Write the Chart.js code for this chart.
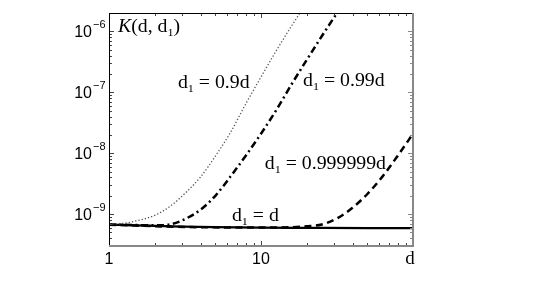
<!DOCTYPE html>
<html>
<head>
<meta charset="utf-8">
<script src="https://cdn.jsdelivr.net/npm/chart.js@4.4.1/dist/chart.umd.min.js"></script>
<style>
  html, body { margin: 0; padding: 0; background: #fff; }
  canvas { display: block; }
</style>
</head>
<body>
<canvas id="c" width="545" height="282"></canvas>
<script>
// values (d on x, K(d,d1) on y)
const xSame = [1, 1.5, 2, 3, 5, 10, 20, 50, 100];
const kSame = [6.7e-10, 6.55e-10, 6.4e-10, 6.25e-10, 6.1e-10, 6.0e-10, 5.95e-10, 5.9e-10, 5.9e-10];

const xNine = [1, 1.26, 1.58, 2, 2.5, 3.16, 4, 5, 6.3, 7.9, 10, 12.6, 15.8, 20];
const kNine = [6.84e-10, 7.08e-10, 7.94e-10, 9.55e-10, 1.32e-9, 2.19e-9, 4.07e-9, 8.9e-9, 2.19e-8, 6.3e-8, 1.78e-7, 4.8e-7, 1.2e-6, 2.95e-6];

const xTwoNines = [1, 1.58, 2, 2.51, 3.16, 3.98, 5.01, 6.31, 7.94, 10, 12.6, 15.8, 20, 25.1, 31.6, 39.8];
const kTwoNines = [6.76e-10, 6.6e-10, 6.55e-10, 6.76e-10, 8.3e-10, 1.17e-9, 2.0e-9, 4.17e-9, 9.1e-9, 2.09e-8, 5.1e-8, 1.32e-7, 3.4e-7, 8.3e-7, 2.0e-6, 4.8e-6];

const xSixNines = [1, 3.16, 10, 15.8, 20, 25.1, 31.6, 39.8, 50.1, 63.1, 79.4, 100];
const kSixNines = [6.7e-10, 6.15e-10, 6.03e-10, 6.1e-10, 6.3e-10, 6.76e-10, 8.5e-10, 1.26e-9, 2.14e-9, 4.17e-9, 9.1e-9, 2.09e-8];

const yTicks = [1e-9, 1e-8, 1e-7, 1e-6];
const yTickExp = ['\u22129', '\u22128', '\u22127', '\u22126'];
const xTicks = [1, 10, 100];
const xTickLabels = ['1', '10', 'd'];

// curve labels: [x, y, right-hand text]
const curveLabels = [
  [2.84, 1.16e-7, ' = 0.9d'],
  [18.9, 1.26e-7, ' = 0.99d'],
  [10.6, 5.5e-9, ' = 0.999999d'],
  [6.44, 7.7e-10, ' = d']
];
const titlePos = [1.146, 9.6e-7];

const SERIF = '18px "Liberation Serif"';
const SERIF_SUB = '11px "Liberation Serif"';
const SANS = '16px "Liberation Sans"';

function pts(xs, ys) {
  return xs.map((x, i) => ({ x: x, y: ys[i] }));
}

function rich(ctx, x, y, parts) {
  ctx.save();
  ctx.translate(x, y);
  ctx.scale(1.1, 1);
  let cx = 0;
  parts.forEach(p => {
    ctx.font = p.f;
    ctx.fillText(p.t, cx, p.dy || 0);
    cx += ctx.measureText(p.t).width;
  });
  ctx.restore();
}

const framePlugin = {
  id: 'frame',
  afterDraw(chart) {
    const ctx = chart.ctx;
    const a = chart.chartArea;
    const xs = chart.scales.x, ys = chart.scales.y;
    ctx.save();
    ctx.textBaseline = 'alphabetic';
    ctx.fillStyle = '#000';

    // minor / major ticks, pointing inward on all four sides
    ctx.lineWidth = 1;
    for (let e = -10; e <= -6; e++) {
      for (let k = 1; k <= 9; k++) {
        const v = k * Math.pow(10, e);
        if (v < ys.min || v > ys.max) continue;
        const py = Math.round(ys.getPixelForValue(v)) + 0.5;
        const len = k === 1 ? 5 : 3;
        ctx.strokeStyle = '#444';
        ctx.beginPath(); ctx.moveTo(a.left, py); ctx.lineTo(a.left + len, py); ctx.stroke();
        ctx.strokeStyle = '#888';
        ctx.beginPath(); ctx.moveTo(a.right, py); ctx.lineTo(a.right - len, py); ctx.stroke();
      }
    }
    for (let e = 0; e <= 2; e++) {
      for (let k = 1; k <= 9; k++) {
        const v = k * Math.pow(10, e);
        if (v < xs.min || v > xs.max) continue;
        const px = Math.round(xs.getPixelForValue(v)) + 0.5;
        const len = k === 1 ? 5 : 3;
        ctx.strokeStyle = '#444';
        ctx.beginPath(); ctx.moveTo(px, a.top); ctx.lineTo(px, a.top + len); ctx.stroke();
        ctx.beginPath(); ctx.moveTo(px, a.bottom); ctx.lineTo(px, a.bottom - len); ctx.stroke();
      }
    }

    // frame: left/top black, bottom/right grey
    ctx.strokeStyle = '#000';
    ctx.lineWidth = 1;
    ctx.beginPath();
    ctx.moveTo(a.left + 0.5, a.bottom);
    ctx.lineTo(a.left + 0.5, a.top + 0.5);
    ctx.lineTo(a.right, a.top + 0.5);
    ctx.stroke();
    ctx.strokeStyle = '#888';
    ctx.lineWidth = 2;
    ctx.beginPath();
    ctx.moveTo(a.left, a.bottom);
    ctx.lineTo(a.right, a.bottom);
    ctx.lineTo(a.right, a.top);
    ctx.stroke();

    // y tick labels 10^n
    yTicks.forEach((v, i) => {
      const py = ys.getPixelForValue(v);
      ctx.font = SANS;
      ctx.textAlign = 'right';
      ctx.fillText('10', 92, py + 6);
      ctx.font = '11px "Liberation Sans"';
      ctx.textAlign = 'left';
      ctx.fillText(yTickExp[i], 93, py - 3);
    });

    // x tick labels
    ctx.textAlign = 'center';
    xTicks.forEach((v, i) => {
      const px = xs.getPixelForValue(v);
      ctx.font = xTickLabels[i] === 'd' ? '19px "Liberation Serif"' : SANS;
      ctx.fillText(xTickLabels[i], px - (i === 2 ? 3 : 0), 264);
    });

    // title and curve labels
    ctx.textAlign = 'left';
    rich(ctx, xs.getPixelForValue(titlePos[0]), ys.getPixelForValue(titlePos[1]), [
      { t: 'K', f: 'italic ' + SERIF },
      { t: '(d, d', f: SERIF },
      { t: '1', f: SERIF_SUB, dy: 4 },
      { t: ')', f: SERIF }
    ]);
    curveLabels.forEach(l => {
      rich(ctx, xs.getPixelForValue(l[0]), ys.getPixelForValue(l[1]), [
        { t: 'd', f: SERIF },
        { t: '1', f: SERIF_SUB, dy: 4 },
        { t: l[2], f: SERIF }
      ]);
    });
    ctx.restore();
  }
};

new Chart(document.getElementById('c'), {
  type: 'line',
  data: {
    datasets: [
      {
        label: 'd1 = 0.9d',
        data: pts(xNine, kNine),
        borderColor: '#555',
        borderWidth: 1.3,
        borderDash: [1.3, 2],
        pointRadius: 0,
        cubicInterpolationMode: 'monotone'
      },
      {
        label: 'd1 = 0.99d',
        data: pts(xTwoNines, kTwoNines),
        borderColor: '#000',
        borderWidth: 2.5,
        borderDash: [7, 3.5, 2, 3.5],
        pointRadius: 0,
        cubicInterpolationMode: 'monotone'
      },
      {
        label: 'd1 = 0.999999d',
        data: pts(xSixNines, kSixNines),
        borderColor: '#000',
        borderWidth: 2.5,
        borderDash: [7, 4.5],
        pointRadius: 0,
        cubicInterpolationMode: 'monotone'
      },
      {
        label: 'd1 = d',
        data: pts(xSame, kSame),
        borderColor: '#000',
        borderWidth: 2.3,
        pointRadius: 0,
        cubicInterpolationMode: 'monotone'
      }
    ]
  },
  options: {
    responsive: false,
    animation: false,
    devicePixelRatio: 1,
    layout: { padding: { left: 109, right: 132, top: 13, bottom: 36 } },
    plugins: { legend: { display: false }, tooltip: { enabled: false } },
    scales: {
      x: { type: 'logarithmic', min: 1, max: 100, display: false },
      y: { type: 'logarithmic', min: 3e-10, max: 2e-6, display: false }
    }
  },
  plugins: [framePlugin]
});
</script>
</body>
</html>
